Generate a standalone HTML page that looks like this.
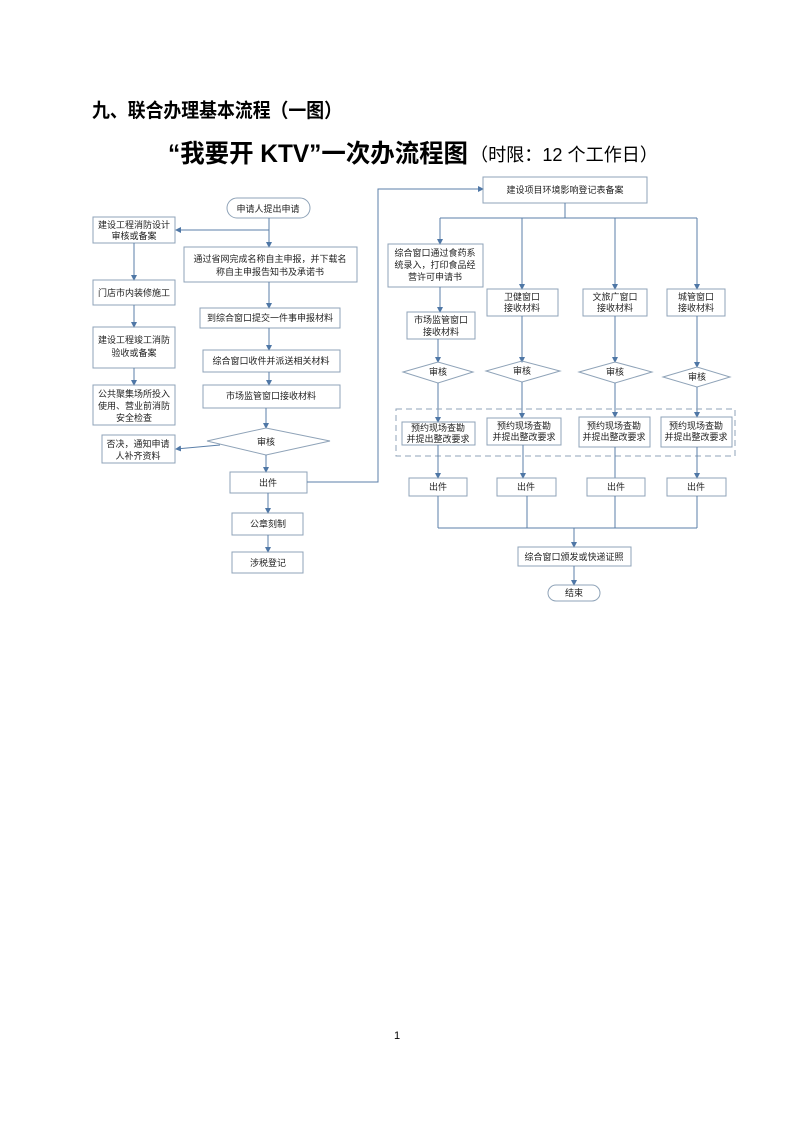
<!DOCTYPE html>
<html><head><meta charset="utf-8"><style>
html,body{margin:0;padding:0;background:#fff;}
svg{display:block;}
</style></head><body>
<svg width="793" height="1122" viewBox="0 0 793 1122" xmlns="http://www.w3.org/2000/svg" font-family="'Liberation Sans','Noto Sans CJK SC',sans-serif">
<defs><marker id="a" markerWidth="6" markerHeight="6" refX="5" refY="3" orient="auto" markerUnits="userSpaceOnUse"><path d="M0,0 L6,3 L0,6z" fill="#4f77a6"/></marker></defs>
<text x="92" y="117" font-size="19.5" font-weight="bold" fill="#000" textLength="250" lengthAdjust="spacingAndGlyphs">九、联合办理基本流程（一图）</text>
<text x="168" y="162" font-size="25" font-weight="bold" fill="#000" textLength="300" lengthAdjust="spacingAndGlyphs">“我要开 KTV”一次办流程图</text>
<text x="470" y="161" font-size="18" fill="#000" textLength="188" lengthAdjust="spacingAndGlyphs">（时限：12 个工作日）</text>
<g fill="none" stroke="#5b7fa8" stroke-width="1">
<rect x="227" y="198" width="83" height="20" rx="10" fill="#fff" stroke="#8fa3b8"/>
<line x1="269" y1="218" x2="269" y2="247" marker-end="url(#a)"/>
<line x1="269" y1="230" x2="176" y2="230" marker-end="url(#a)"/>
<rect x="184" y="247" width="173" height="35" stroke="#8fa3b8"/>
<line x1="269" y1="282" x2="269" y2="308" marker-end="url(#a)"/>
<rect x="200" y="308" width="140" height="20" stroke="#8fa3b8"/>
<line x1="269" y1="328" x2="269" y2="350" marker-end="url(#a)"/>
<rect x="203" y="350" width="137" height="22" stroke="#8fa3b8"/>
<line x1="269" y1="372" x2="269" y2="385" marker-end="url(#a)"/>
<rect x="203" y="385" width="137" height="23" stroke="#8fa3b8"/>
<line x1="266" y1="408" x2="266" y2="428" marker-end="url(#a)"/>
<polygon points="207,441 266,428 330,441 266,455" stroke="#8fa3b8" fill="#fff"/>
<line x1="220" y1="445" x2="176" y2="449" marker-end="url(#a)"/>
<rect x="102" y="435" width="73" height="28" stroke="#8fa3b8"/>
<line x1="266" y1="455" x2="266" y2="472" marker-end="url(#a)"/>
<rect x="230" y="472" width="77" height="21" stroke="#8fa3b8"/>
<polyline points="307,482 378,482 378,189 483,189" marker-end="url(#a)"/>
<line x1="268" y1="493" x2="268" y2="513" marker-end="url(#a)"/>
<rect x="232" y="513" width="71" height="22" stroke="#8fa3b8"/>
<line x1="268" y1="535" x2="268" y2="552" marker-end="url(#a)"/>
<rect x="232" y="552" width="71" height="21" stroke="#8fa3b8"/>
<rect x="93" y="217" width="82" height="26" stroke="#8fa3b8"/>
<line x1="134" y1="243" x2="134" y2="280" marker-end="url(#a)"/>
<rect x="93" y="280" width="82" height="25" stroke="#8fa3b8"/>
<line x1="134" y1="305" x2="134" y2="327" marker-end="url(#a)"/>
<rect x="93" y="327" width="82" height="41" stroke="#8fa3b8"/>
<line x1="134" y1="368" x2="134" y2="385" marker-end="url(#a)"/>
<rect x="93" y="385" width="82" height="40" stroke="#8fa3b8"/>
<rect x="483" y="177" width="164" height="26" stroke="#8fa3b8"/>
<line x1="565" y1="203" x2="565" y2="218"/>
<polyline points="440,218 697,218"/>
<line x1="440" y1="218" x2="440" y2="244" marker-end="url(#a)"/>
<line x1="522" y1="218" x2="522" y2="289" marker-end="url(#a)"/>
<line x1="615" y1="218" x2="615" y2="289" marker-end="url(#a)"/>
<line x1="697" y1="218" x2="697" y2="289" marker-end="url(#a)"/>
<rect x="388" y="244" width="95" height="43" stroke="#8fa3b8"/>
<line x1="440" y1="287" x2="440" y2="312" marker-end="url(#a)"/>
<rect x="407" y="312" width="68" height="27" stroke="#8fa3b8"/>
<rect x="487" y="289" width="71" height="27" stroke="#8fa3b8"/>
<rect x="583" y="289" width="64" height="27" stroke="#8fa3b8"/>
<rect x="667" y="289" width="58" height="27" stroke="#8fa3b8"/>
<line x1="438" y1="339" x2="438" y2="362" marker-end="url(#a)"/>
<line x1="522" y1="316" x2="522" y2="362" marker-end="url(#a)"/>
<line x1="615" y1="316" x2="615" y2="362" marker-end="url(#a)"/>
<line x1="697" y1="316" x2="697" y2="367" marker-end="url(#a)"/>
<polygon points="403,372 438,362 473,372 438,383" stroke="#8fa3b8"/>
<polygon points="486,371 522,361 560,371 522,382" stroke="#8fa3b8"/>
<polygon points="579,372 615,362 652,372 615,383" stroke="#8fa3b8"/>
<polygon points="663,377 697,367 730,377 697,387" stroke="#8fa3b8"/>
<line x1="438" y1="383" x2="438" y2="422" marker-end="url(#a)"/>
<line x1="522" y1="382" x2="522" y2="418" marker-end="url(#a)"/>
<line x1="615" y1="383" x2="615" y2="417" marker-end="url(#a)"/>
<line x1="697" y1="387" x2="697" y2="417" marker-end="url(#a)"/>
<rect x="396" y="409" width="339" height="47" stroke="#8fa3b8" stroke-dasharray="6,4"/>
<rect x="402" y="422" width="73" height="23" stroke="#8fa3b8"/>
<rect x="487" y="418" width="74" height="27" stroke="#8fa3b8"/>
<rect x="579" y="417" width="71" height="30" stroke="#8fa3b8"/>
<rect x="661" y="417" width="71" height="30" stroke="#8fa3b8"/>
<line x1="438" y1="445" x2="438" y2="478" marker-end="url(#a)"/>
<line x1="523" y1="445" x2="523" y2="478" marker-end="url(#a)"/>
<line x1="615" y1="447" x2="615" y2="478"/>
<line x1="697" y1="447" x2="697" y2="478" marker-end="url(#a)"/>
<rect x="409" y="478" width="58" height="18" stroke="#8fa3b8"/>
<rect x="497" y="478" width="59" height="18" stroke="#8fa3b8"/>
<rect x="587" y="478" width="58" height="18" stroke="#8fa3b8"/>
<rect x="667" y="478" width="59" height="18" stroke="#8fa3b8"/>
<line x1="438" y1="496" x2="438" y2="528"/>
<line x1="527" y1="496" x2="527" y2="528"/>
<line x1="615" y1="496" x2="615" y2="528"/>
<line x1="697" y1="496" x2="697" y2="528"/>
<line x1="438" y1="528" x2="697" y2="528"/>
<line x1="574" y1="528" x2="574" y2="547" marker-end="url(#a)"/>
<rect x="518" y="547" width="113" height="19" stroke="#8fa3b8"/>
<line x1="574" y1="566" x2="574" y2="585" marker-end="url(#a)"/>
<rect x="548" y="585" width="52" height="16" rx="8" stroke="#8fa3b8"/>
</g>
<g font-size="9" fill="#222" text-anchor="middle">
<text x="268" y="212">申请人提出申请</text>
<text x="134" y="228">建设工程消防设计</text><text x="134" y="239">审核或备案</text>
<text x="270" y="262">通过省网完成名称自主申报，并下载名</text><text x="270" y="275">称自主申报告知书及承诺书</text>
<text x="270" y="321">到综合窗口提交一件事申报材料</text>
<text x="271" y="364">综合窗口收件并派送相关材料</text>
<text x="271" y="399">市场监管窗口接收材料</text>
<text x="266" y="445">审核</text>
<text x="138" y="447">否决，通知申请</text><text x="138" y="459">人补齐资料</text>
<text x="268" y="486">出件</text>
<text x="268" y="527">公章刻制</text>
<text x="268" y="566">涉税登记</text>
<text x="134" y="296">门店市内装修施工</text>
<text x="134" y="343">建设工程竣工消防</text><text x="134" y="356">验收或备案</text>
<text x="134" y="397">公共聚集场所投入</text><text x="134" y="409">使用、营业前消防</text><text x="134" y="421">安全检查</text>
<text x="565" y="193">建设项目环境影响登记表备案</text>
<text x="435" y="256">综合窗口通过食药系</text><text x="435" y="268">统录入，打印食品经</text><text x="435" y="280">营许可申请书</text>
<text x="441" y="323">市场监管窗口</text><text x="441" y="335">接收材料</text>
<text x="522" y="300">卫健窗口</text><text x="522" y="311">接收材料</text>
<text x="615" y="300">文旅广窗口</text><text x="615" y="311">接收材料</text>
<text x="696" y="300">城管窗口</text><text x="696" y="311">接收材料</text>
<text x="438" y="375">审核</text><text x="522" y="374">审核</text><text x="615" y="375">审核</text><text x="697" y="380">审核</text>
<text x="438" y="431">预约现场查勘</text><text x="438" y="442">并提出整改要求</text>
<text x="524" y="429">预约现场查勘</text><text x="524" y="440">并提出整改要求</text>
<text x="614" y="429">预约现场查勘</text><text x="614" y="440">并提出整改要求</text>
<text x="696" y="429">预约现场查勘</text><text x="696" y="440">并提出整改要求</text>
<text x="438" y="490">出件</text><text x="526" y="490">出件</text><text x="616" y="490">出件</text><text x="696" y="490">出件</text>
<text x="574" y="560">综合窗口颁发或快递证照</text>
<text x="574" y="596">结束</text>
</g>
<text x="397" y="1039" font-size="11" fill="#000" text-anchor="middle">1</text>
</svg>
</body></html>
